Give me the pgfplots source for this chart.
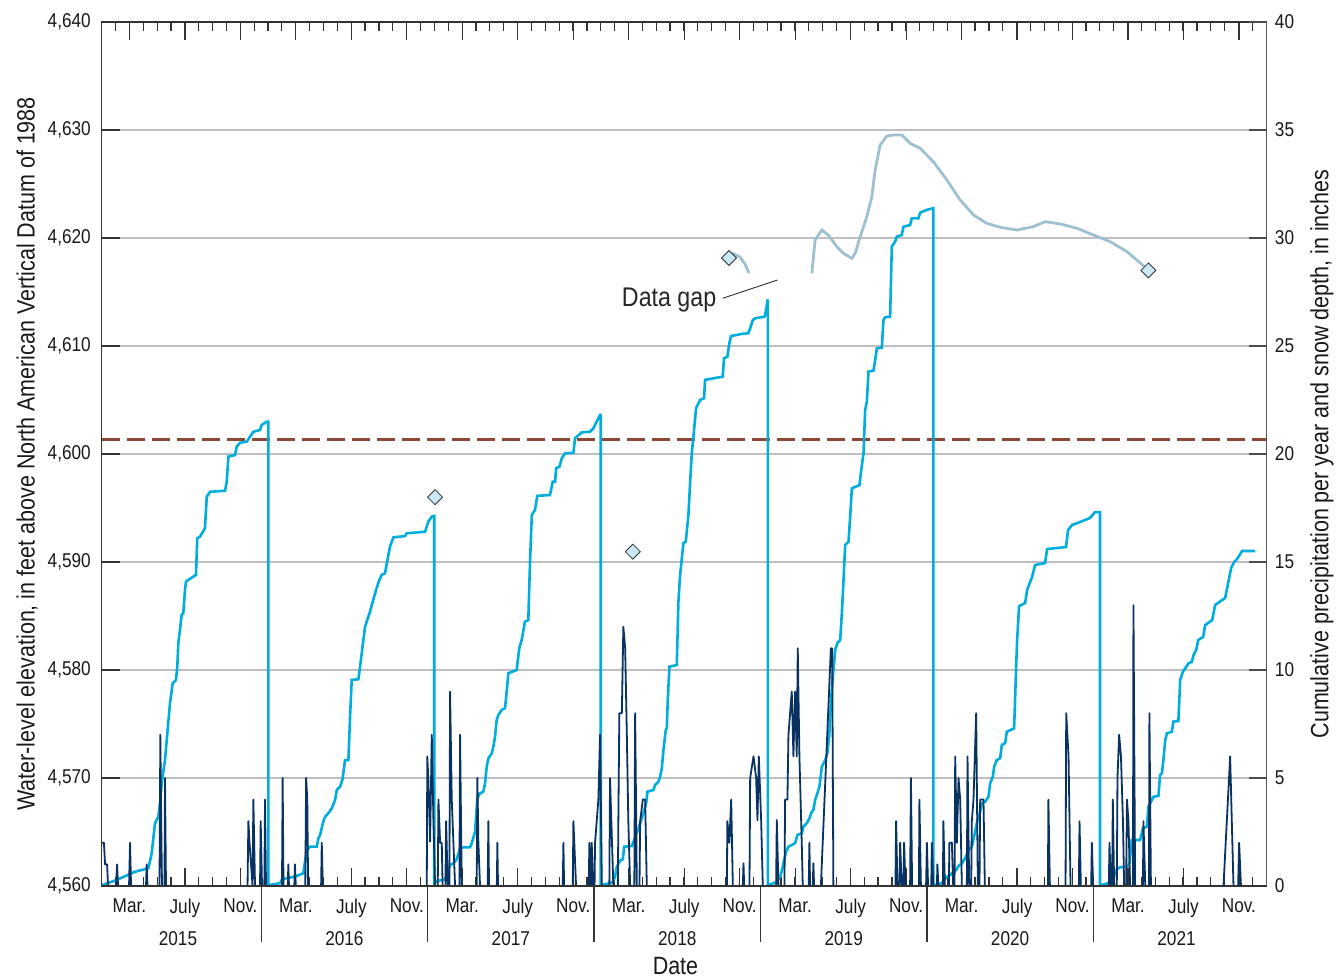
\documentclass[border=0pt]{standalone}
\usepackage{pgfplots}
\pgfplotsset{compat=1.18}
\usepackage{fontspec}
\setmainfont{Liberation Sans}[FakeStretch=0.86]
\definecolor{precip}{RGB}{0,174,222}
\definecolor{snow}{RGB}{8,50,98}
\definecolor{wl}{RGB}{158,192,208}
\definecolor{diam}{RGB}{200,232,246}
\definecolor{brownd}{RGB}{140,72,52}
\definecolor{gridc}{RGB}{190,190,195}
\newcommand{\tickfont}{\fontsize{20}{23}\selectfont}
\newcommand{\labfont}{\fontsize{25}{29}\selectfont}
\begin{document}
\begin{tikzpicture}
% ---------------- left axis: water level ----------------
\begin{axis}[
  name=ax,
  scale only axis, width=1165pt, height=864pt,
  xmin=2015.0417, xmax=2022.0417,
  ymin=4560, ymax=4640,
  axis line style={draw=black!80, line width=1.2pt},
  ytick={4560,4570,4580,4590,4600,4610,4620,4630,4640},
  yticklabels={{4,560},{4,570},{4,580},{4,590},{4,600},{4,610},{4,620},{4,630},{4,640}},
  ytick pos=left,
  ymajorgrids, grid style={gridc, line width=1.4pt},
  tick align=inside,
  major tick length=18pt, minor tick length=9pt,
  tick style={black!80, line width=1.2pt},
  xtick={2015.2083,2015.5417,2015.875,2016.2083,2016.5417,2016.875,2017.2083,2017.5417,2017.875,2018.2083,2018.5417,2018.875,2019.2083,2019.5417,2019.875,2020.2083,2020.5417,2020.875,2021.2083,2021.5417,2021.875},
  xticklabels={Mar.,July,Nov.,Mar.,July,Nov.,Mar.,July,Nov.,Mar.,July,Nov.,Mar.,July,Nov.,Mar.,July,Nov.,Mar.,July,Nov.},
  minor xtick={2015.0416667,2015.125,...,2022.05},
  extra x ticks={2015.5,2016.5,2017.5,2018.5,2019.5,2020.5,2021.5},
  extra x tick labels={2015,2016,2017,2018,2019,2020,2021},
  extra x tick style={major tick length=0pt, tick label style={yshift=-33pt}},
  ticklabel style={font=\tickfont, text=black!90},
  xticklabel style={yshift=-9pt},
  yticklabel style={xshift=-7.4pt},
  ylabel={Water-level elevation, in feet above North American Vertical Datum of 1988},
  ylabel style={at={(axis description cs:-0.0519,0.5)}, anchor=south, font=\labfont, text=black!90},
  xlabel={Date},
  xlabel style={at={(axis description cs:0.4925,0)}, anchor=north, yshift=-68pt, font=\labfont, text=black!90},
]
\addplot[brownd, line width=3pt, dash pattern=on 18pt off 7pt] coordinates {(2015.0417,4601.36) (2022.0417,4601.36)};
\addplot[wl, line width=2.8pt] coordinates {
(2018.820,4618.50) (2018.835,4618.56) (2018.877,4618.24) (2018.907,4617.59) (2018.931,4616.76)};
\addplot[wl, line width=2.8pt] coordinates {
(2019.309,4616.73) (2019.328,4619.81) (2019.369,4620.74) (2019.407,4620.28) (2019.459,4619.19)
(2019.498,4618.58) (2019.549,4618.12) (2019.569,4618.58) (2019.599,4620.12) (2019.639,4621.97)
(2019.669,4623.82) (2019.689,4626.30) (2019.719,4628.61) (2019.759,4629.44) (2019.799,4629.54)
(2019.849,4629.54) (2019.899,4628.77) (2019.959,4628.31) (2020.039,4627.06) (2020.120,4625.37)
(2020.200,4623.52) (2020.280,4622.13) (2020.360,4621.36) (2020.440,4620.99) (2020.541,4620.74)
(2020.640,4621.05) (2020.711,4621.51) (2020.801,4621.30) (2020.901,4620.90) (2021.001,4620.28)
(2021.101,4619.66) (2021.202,4618.73) (2021.331,4617.04)};
\addplot[only marks, mark=square*, mark size=5.3pt, mark options={rotate=45, fill=diam, draw=black!80, line width=0.8pt}]
coordinates {(2017.045,4596.0) (2018.233,4590.95) (2018.811,4618.15) (2021.331,4617.0)};
\node[anchor=base west, inner sep=0pt, font=\fontsize{27}{31}\selectfont, text=black!85] at (axis cs:2018.1667,4613.70) {Data gap};
\draw[black!85, line width=0.9pt] (axis cs:2018.7737,4614.42) -- (axis cs:2019.1018,4616.11);
\end{axis}
% ---------------- right axis: precipitation and snow depth ----------------
\begin{axis}[
  scale only axis, width=1165pt, height=864pt,
  xmin=2015.0417, xmax=2022.0417, ymin=0, ymax=40,
  axis y line*=right, hide x axis,
  axis line style={draw=black!65, line width=1.2pt, -},
  ytick={0,5,10,15,20,25,30,35,40},
  yticklabels={0,5,10,15,20,25,30,35,40},
  tick align=inside, major tick length=18pt,
  tick style={black!70, line width=1.2pt},
  yticklabel style={font=\tickfont, text=black!90, xshift=4.7pt},
  ylabel={Cumulative precipitation per year and snow depth, in inches},
  ylabel style={at={(axis description cs:1.0344,0.5)}, anchor=north, font=\labfont, text=black!90},
]
\addplot[precip, line width=2.6pt] coordinates {
(2015.042,0) (2015.048,0.05) (2015.132,0.28) (2015.212,0.56) (2015.242,0.66) (2015.322,0.82)
(2015.342,1.51) (2015.362,2.90) (2015.382,3.21) (2015.392,3.83) (2015.402,4.75) (2015.422,5.83)
(2015.436,7.07) (2015.452,8.46) (2015.468,9.38) (2015.488,9.54) (2015.496,10.15) (2015.502,11.24)
(2015.512,11.85) (2015.522,12.55) (2015.532,12.63) (2015.542,13.70) (2015.548,14.09) (2015.562,14.17)
(2015.608,14.40) (2015.616,16.10) (2015.632,16.17) (2015.662,16.56) (2015.673,18.02) (2015.693,18.25)
(2015.783,18.30) (2015.793,18.72) (2015.803,19.88) (2015.843,19.95) (2015.853,20.34) (2015.873,20.52)
(2015.913,20.57) (2015.933,20.80) (2015.953,21.03) (2015.993,21.11) (2016.003,21.34) (2016.033,21.50)
(2016.043,21.50) (2016.043,0)
(2016.053,0.05) (2016.113,0.13) (2016.123,0.28) (2016.153,0.36) (2016.203,0.43) (2016.253,0.59)
(2016.274,1.67) (2016.294,1.82) (2016.334,1.82) (2016.344,2.21) (2016.354,2.36) (2016.370,2.90)
(2016.384,3.21) (2016.404,3.37) (2016.424,3.60) (2016.444,3.98) (2016.454,4.44) (2016.474,4.60)
(2016.488,4.91) (2016.504,5.83) (2016.524,5.83) (2016.534,7.84) (2016.544,9.54) (2016.584,9.57)
(2016.594,10.15) (2016.614,11.39) (2016.624,12.00) (2016.644,12.47) (2016.654,12.70) (2016.670,13.16)
(2016.690,13.70) (2016.710,14.17) (2016.724,14.40) (2016.744,14.48) (2016.755,14.94) (2016.774,15.71)
(2016.794,16.14) (2016.864,16.20) (2016.875,16.33) (2016.985,16.40) (2017.004,16.87) (2017.025,17.10)
(2017.040,17.13) (2017.040,0)
(2017.045,0.20) (2017.085,0.28) (2017.105,0.31) (2017.115,0.51) (2017.125,0.74) (2017.135,0.97)
(2017.155,1.05) (2017.175,1.24) (2017.195,1.75) (2017.215,1.79) (2017.255,1.79) (2017.265,1.98)
(2017.285,2.51) (2017.299,4.06) (2017.315,4.29) (2017.335,4.37) (2017.345,4.75) (2017.355,5.52)
(2017.365,5.91) (2017.385,6.14) (2017.395,6.45) (2017.405,6.91) (2017.415,7.69) (2017.425,7.92)
(2017.445,8.15) (2017.465,8.23) (2017.475,9.00) (2017.485,9.85) (2017.535,10.00) (2017.551,11.02)
(2017.565,11.39) (2017.585,12.24) (2017.605,12.31) (2017.615,14.94) (2017.626,17.18) (2017.645,17.41)
(2017.659,18.06) (2017.735,18.10) (2017.752,18.72) (2017.766,18.72) (2017.772,19.34) (2017.792,19.41)
(2017.806,19.80) (2017.826,20.03) (2017.876,20.06) (2017.886,20.73) (2017.926,21.00) (2017.976,21.03)
(2017.996,21.19) (2018.036,21.81) (2018.040,21.81) (2018.040,0)
(2018.046,0.05) (2018.096,0.13) (2018.113,0.20) (2018.126,0.43) (2018.137,0.89) (2018.157,1.17)
(2018.173,1.24) (2018.181,1.82) (2018.227,1.85) (2018.237,2.05) (2018.257,2.44) (2018.277,2.90)
(2018.297,3.37) (2018.313,3.83) (2018.321,4.37) (2018.357,4.44) (2018.367,4.68) (2018.387,4.83)
(2018.397,5.06) (2018.407,5.45) (2018.417,6.30) (2018.431,7.22) (2018.437,7.30) (2018.443,8.61)
(2018.453,10.15) (2018.497,10.23) (2018.507,13.16) (2018.517,14.40) (2018.537,15.87) (2018.551,15.94)
(2018.567,17.18) (2018.577,18.64) (2018.587,20.03) (2018.597,20.80) (2018.613,22.12) (2018.637,22.50)
(2018.661,22.58) (2018.667,23.43) (2018.773,23.58) (2018.781,24.43) (2018.801,24.50) (2018.813,25.13)
(2018.823,25.46) (2018.888,25.56) (2018.927,25.59) (2018.938,25.82) (2018.954,26.20) (2018.968,26.28)
(2019.024,26.36) (2019.028,26.44) (2019.044,27.16) (2019.044,0)
(2019.048,0.05) (2019.078,0.13) (2019.098,0.20) (2019.108,0.31) (2019.122,0.51) (2019.134,0.89)
(2019.142,1.20) (2019.154,1.59) (2019.168,1.82) (2019.208,1.98) (2019.222,2.36) (2019.248,2.44)
(2019.258,2.75) (2019.278,2.90) (2019.294,3.13) (2019.308,3.44) (2019.318,3.52) (2019.328,3.98)
(2019.342,4.29) (2019.354,4.60) (2019.369,5.52) (2019.389,5.83) (2019.402,6.14) (2019.414,7.07)
(2019.424,8.61) (2019.435,9.69) (2019.449,10.93) (2019.463,11.26) (2019.479,11.39) (2019.489,12.63)
(2019.499,14.17) (2019.509,15.79) (2019.529,15.94) (2019.539,17.10) (2019.549,18.41) (2019.595,18.56)
(2019.603,19.11) (2019.619,20.03) (2019.629,22.04) (2019.639,22.42) (2019.649,23.81) (2019.679,23.86)
(2019.689,24.35) (2019.699,24.89) (2019.729,24.92) (2019.739,26.20) (2019.749,26.33) (2019.779,26.36)
(2019.789,29.60) (2019.809,29.83) (2019.819,30.06) (2019.849,30.14) (2019.859,30.52) (2019.899,30.60)
(2019.909,30.91) (2019.949,30.91) (2019.959,31.17) (2019.999,31.30) (2020.039,31.38) (2020.039,0)
(2020.049,0.05) (2020.069,0.09) (2020.090,0.13) (2020.104,0.28) (2020.120,0.43) (2020.140,0.51)
(2020.160,0.66) (2020.176,0.74) (2020.190,0.93) (2020.210,1.05) (2020.230,1.28) (2020.250,1.67)
(2020.270,1.82) (2020.290,2.51) (2020.304,3.06) (2020.316,3.29) (2020.330,3.83) (2020.350,3.90)
(2020.370,4.13) (2020.380,4.75) (2020.396,5.06) (2020.404,5.52) (2020.420,5.83) (2020.440,5.91)
(2020.450,6.53) (2020.470,6.61) (2020.480,7.14) (2020.524,7.30) (2020.536,10.09) (2020.542,11.39)
(2020.554,12.96) (2020.590,13.10) (2020.602,13.70) (2020.632,14.31) (2020.650,14.86) (2020.710,14.95)
(2020.722,15.60) (2020.836,15.69) (2020.848,16.48) (2020.872,16.71) (2020.920,16.85) (2020.980,17.04)
(2021.010,17.31) (2021.040,17.31) (2021.040,0)
(2021.051,0.05) (2021.091,0.13) (2021.111,0.20) (2021.121,0.40) (2021.141,0.77) (2021.161,0.87)
(2021.201,0.89) (2021.217,1.05) (2021.231,2.13) (2021.281,2.13) (2021.298,2.67) (2021.322,2.75)
(2021.331,3.67) (2021.361,4.13) (2021.391,4.17) (2021.401,5.14) (2021.412,5.22) (2021.421,5.83)
(2021.432,6.76) (2021.442,7.07) (2021.472,7.14) (2021.481,7.61) (2021.511,7.64) (2021.522,9.54)
(2021.538,9.92) (2021.552,10.08) (2021.572,10.31) (2021.592,10.38) (2021.602,10.69) (2021.618,10.93)
(2021.630,11.39) (2021.660,11.53) (2021.672,12.08) (2021.714,12.31) (2021.732,13.01) (2021.774,13.24)
(2021.792,13.33) (2021.810,14.03) (2021.828,14.72) (2021.846,15.00) (2021.864,15.14) (2021.894,15.51)
(2021.972,15.51)};
\addplot[snow, line width=1.8pt, line join=round] coordinates {
(2015.042,2.0) (2015.055,2.0) (2015.062,1.0) (2015.074,1.0) (2015.080,0) (2015.128,0) (2015.134,1.0) (2015.140,0)
(2015.206,0) (2015.212,2.0) (2015.218,0) (2015.308,0) (2015.312,1.0) (2015.317,0) (2015.389,0) (2015.394,7.0)
(2015.398,3.8) (2015.404,0) (2015.419,0) (2015.422,5.0) (2015.428,0) (2015.918,0) (2015.923,3.0) (2015.930,2.0)
(2015.948,0) (2015.953,4.0) (2015.963,0) (2015.993,0) (2015.997,3.0) (2016.005,0) (2016.019,0) (2016.023,4.0)
(2016.029,0) (2016.125,0) (2016.129,5.0) (2016.134,0) (2016.160,0) (2016.163,1.0) (2016.167,0) (2016.199,0)
(2016.203,1.0) (2016.208,0) (2016.265,0) (2016.270,5.0) (2016.277,4.0) (2016.282,0) (2016.360,0) (2016.364,2.0)
(2016.370,0) (2016.995,0) (2016.998,6.0) (2017.004,5.0) (2017.015,2.05) (2017.025,7.0) (2017.035,3.0) (2017.045,0)
(2017.061,0) (2017.065,4.0) (2017.075,2.0) (2017.085,2.0) (2017.090,0) (2017.107,0) (2017.111,3.0) (2017.121,0)
(2017.131,0) (2017.135,9.0) (2017.145,4.0) (2017.155,2.0) (2017.165,0) (2017.191,0) (2017.195,7.0) (2017.205,0)
(2017.295,0) (2017.299,5.0) (2017.305,2.0) (2017.315,0) (2017.361,0) (2017.365,3.0) (2017.369,0) (2017.416,0)
(2017.419,2.0) (2017.423,0) (2017.812,0) (2017.816,2.0) (2017.820,0) (2017.872,0) (2017.876,3.0) (2017.886,1.1)
(2017.892,0) (2017.968,0) (2017.972,2.0) (2017.979,0) (2017.982,0) (2017.986,2.0) (2017.994,0) (2018.003,0)
(2018.006,2.0) (2018.026,4.0) (2018.036,7.0) (2018.047,0) (2018.092,0) (2018.096,5.0) (2018.116,0) (2018.143,0)
(2018.146,3.0) (2018.152,8.0) (2018.167,8.0) (2018.176,12.0) (2018.187,11.0) (2018.197,7.0) (2018.206,3.0) (2018.217,0)
(2018.242,0) (2018.247,8.0) (2018.257,0) (2018.273,0) (2018.277,3.0) (2018.293,4.0) (2018.307,4.0) (2018.317,0)
(2018.798,0) (2018.801,3.0) (2018.813,2.0) (2018.824,4.0) (2018.834,0) (2018.894,0) (2018.898,1.05) (2018.902,0)
(2018.934,0) (2018.938,5.0) (2018.958,6.0) (2018.974,5.0) (2018.982,3.05) (2018.990,6.0) (2019.004,3.05) (2019.014,0)
(2019.094,0) (2019.098,3.05) (2019.108,0) (2019.144,0) (2019.148,4.0) (2019.162,4.0) (2019.168,7.0) (2019.178,8.0)
(2019.188,9.0) (2019.198,6.0) (2019.208,9.0) (2019.218,6.0) (2019.224,11.0) (2019.234,6.0) (2019.248,2.0) (2019.254,0)
(2019.290,0) (2019.294,2.0) (2019.298,0) (2019.314,0) (2019.318,1.05) (2019.322,0) (2019.363,0) (2019.423,11.0)
(2019.431,11.0) (2019.438,0) (2019.811,0) (2019.815,3.0) (2019.823,0) (2019.835,0) (2019.839,2.0) (2019.849,0)
(2019.859,0) (2019.863,2.0) (2019.871,0) (2019.899,0) (2019.904,5.0) (2019.911,0) (2019.952,0) (2019.955,4.0)
(2019.964,0) (2019.995,0) (2020.000,2.0) (2020.007,0) (2020.026,0) (2020.030,2.0) (2020.038,0) (2020.060,0)
(2020.063,1.0) (2020.069,0) (2020.096,0) (2020.099,3.0) (2020.108,0) (2020.132,0) (2020.135,2.0) (2020.150,2.0)
(2020.158,0) (2020.166,0) (2020.170,6.0) (2020.180,2.0) (2020.190,5.0) (2020.200,4.0) (2020.210,0) (2020.240,0)
(2020.244,6.0) (2020.254,0) (2020.266,0) (2020.270,3.0) (2020.280,4.0) (2020.296,8.0) (2020.306,0) (2020.316,0)
(2020.320,4.0) (2020.340,4.0) (2020.348,0) (2020.727,0) (2020.730,4.0) (2020.739,0) (2020.833,0) (2020.837,8.0)
(2020.851,6.0) (2020.863,0) (2020.913,0) (2020.917,3.0) (2020.925,0) (2020.987,0) (2020.991,2.0) (2020.999,0)
(2021.093,0) (2021.097,2.0) (2021.105,0) (2021.113,0) (2021.117,4.0) (2021.125,0) (2021.141,0) (2021.145,5.0)
(2021.155,7.0) (2021.166,6.0) (2021.178,3.0) (2021.185,0) (2021.197,0) (2021.202,4.0) (2021.211,3.0) (2021.221,0)
(2021.238,0) (2021.241,13.0) (2021.251,0) (2021.298,0) (2021.301,3.0) (2021.312,0) (2021.334,0) (2021.337,8.0)
(2021.346,0) (2021.782,0) (2021.822,6.0) (2021.842,0) (2021.870,0) (2021.876,2.0) (2021.887,0) (2021.890,0)};
\end{axis}
% ---------------- year separators ----------------
\begin{axis}[
  scale only axis, width=1165pt, height=864pt,
  xmin=2015.0417, xmax=2022.0417, ymin=0, ymax=1,
  hide y axis, axis x line*=bottom,
  axis line style={-, draw=black!80, line width=1.2pt},
  xtick={2016,2017,2018,2019,2020,2021}, xticklabels={},
  tick align=outside, major tick length=56pt,
  tick style={black!80, line width=1.2pt},
]
\addplot[draw=none] coordinates {(2016,0.5)};
\end{axis}
\pgfresetboundingbox
\path[use as bounding box] ([xshift=-101.7pt,yshift=-92pt]ax.south west) rectangle ([xshift=69.3pt,yshift=22pt]ax.north east);
\end{tikzpicture}
\end{document}
